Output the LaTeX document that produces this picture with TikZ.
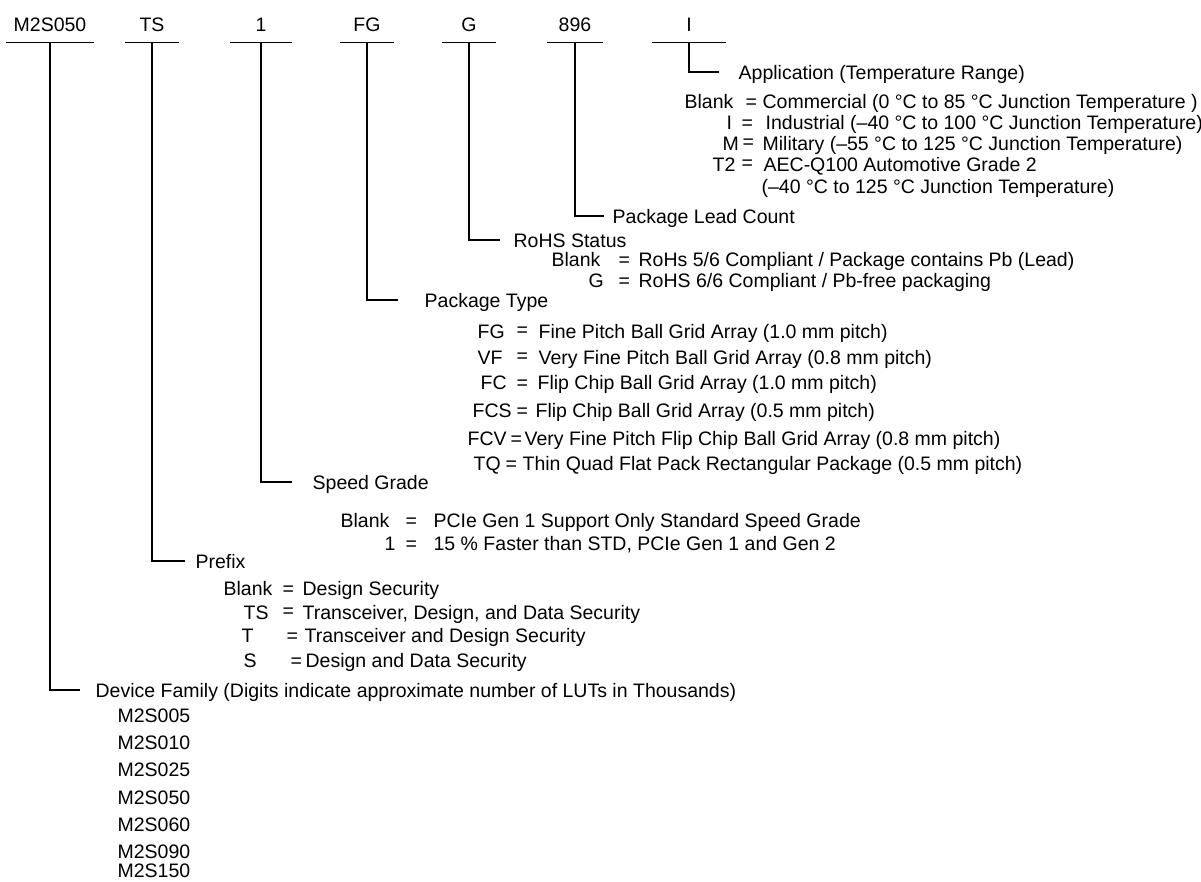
\documentclass[tikz,border=0pt]{standalone}
\usepackage{fontspec}
\setmainfont{Liberation Sans}
\usepackage{tikz}
\usetikzlibrary{arrows}
\newcommand{\upeq}{\raisebox{2pt}{=}}

\begin{document}
\begin{tikzpicture}[x=1pt,y=-1pt,line width=1.3pt,
  every node/.style={font=\fontsize{19.5}{22}\selectfont},
  code node/.style={inner sep=0pt,text height=14pt,text depth=0pt,minimum height=35pt},
  txt node/.style={anchor=west,inner sep=0pt,text height=14pt,text depth=0pt}]
  \useasboundingbox (0,0) rectangle (1201,881);

  % ordering code
  \node[code node,minimum width=86pt] (m2s) at (50,24.5) {M2S050};
  \node[code node,minimum width=53pt] (ts) at (152,24.5) {TS};
  \node[code node,minimum width=60pt] (spd) at (261,24.5) {1};
  \node[code node,minimum width=52pt] (pkg) at (367,24.5) {FG};
  \node[code node,minimum width=52pt] (rohs) at (469,24.5) {G};
  \node[code node,minimum width=55pt] (lead) at (575,24.5) {896};
  \node[code node,minimum width=73pt] (temp) at (689,24.5) {I};
  \foreach \n in {m2s,ts,spd,pkg,rohs,lead,temp}
    \draw (\n.south west) -- (\n.south east);

  % field titles
  \node[txt node] (app) at (738,72) {Application (Temperature Range)};
  \node[txt node] (plc) at (612,216) {Package Lead Count};
  \node[txt node] (rst) at (513,240) {RoHS Status};
  \node[txt node] (ptype) at (424,300) {Package Type};
  \node[txt node] (grade) at (312,482) {Speed Grade};
  \node[txt node] (pre) at (195,561) {Prefix};
  \node[txt node] (fam) at (95,690) {Device Family (Digits indicate approximate number of LUTs in Thousands)};

  \draw[shorten >=19pt] (temp.south) |- (app.west);
  \draw[shorten >=8pt] (lead.south) |- (plc.west);
  \draw[shorten >=13pt] (rohs.south) |- (rst.west);
  \draw[shorten >=26pt] (pkg.south) |- (ptype.west);
  \draw[shorten >=20pt] (spd.south) |- (grade.west);
  \draw[shorten >=10pt] (ts.south) |- (pre.west);
  \draw[shorten >=15pt] (m2s.south) |- (fam.west);

  % application
  \foreach \y/\xk/\k/\xe/\e/\xv/\v [count=\i] in {
    101/684/Blank/745/=/762/{Commercial (0 °C to 85 °C Junction Temperature )},
    122/726/I/741/=/765/{Industrial (–40 °C to 100 °C Junction Temperature)},
    143/722/M/742/\upeq/762/{Military (–55 °C to 125 °C Junction Temperature)},
    164/712/T2/741/\upeq/763/{AEC-Q100 Automotive Grade 2}}
  {
    \node[txt node] (appk\i) at (\xk,\y) {\k};
    \node[txt node] (appe\i) at (\xe,\y) {\e};
    \node[txt node] (appv\i) at (\xv,\y) {\v};
  }
  \node[txt node] (appv5) at (761,186) {(–40 °C to 125 °C Junction Temperature)};

  % rohs
  \foreach \y/\xk/\k/\v [count=\i] in {
    259/551/Blank/{RoHs 5/6 Compliant / Package contains Pb (Lead)},
    280/588/G/{RoHS 6/6 Compliant / Pb-free packaging}}
  {
    \node[txt node] (rstk\i) at (\xk,\y) {\k};
    \node[txt node] (rste\i) at (618,\y) {=};
    \node[txt node] (rstv\i) at (638,\y) {\v};
  }

  % package type
  \foreach \y/\xk/\k/\xe/\e/\xv/\v [count=\i] in {
    331/477/FG/516/\upeq/538/{Fine Pitch Ball Grid Array (1.0 mm pitch)},
    357/477/VF/516/\upeq/538/{Very Fine Pitch Ball Grid Array (0.8 mm pitch)},
    382/480/FC/516/=/537/{Flip Chip Ball Grid Array (1.0 mm pitch)},
    410/472/FCS/516/=/535/{Flip Chip Ball Grid Array (0.5 mm pitch)},
    438/467/FCV/510/=/524/{Very Fine Pitch Flip Chip Ball Grid Array (0.8 mm pitch)},
    463/473/TQ/505/=/522/{Thin Quad Flat Pack Rectangular Package (0.5 mm pitch)}}
  {
    \node[txt node] (ptk\i) at (\xk,\y) {\k};
    \node[txt node] (pte\i) at (\xe,\y) {\e};
    \node[txt node] (ptv\i) at (\xv,\y) {\v};
  }

  % speed grade
  \foreach \y/\xk/\k/\v [count=\i] in {
    520/340/Blank/{PCIe Gen 1 Support Only Standard Speed Grade},
    543/384/1/{15 \% Faster than STD, PCIe Gen 1 and Gen 2}}
  {
    \node[txt node] (grk\i) at (\xk,\y) {\k};
    \node[txt node] (gre\i) at (405,\y) {=};
    \node[txt node] (grv\i) at (433,\y) {\v};
  }

  % prefix
  \foreach \y/\xk/\k/\xe/\e/\xv/\v [count=\i] in {
    588/223/Blank/282/=/302/{Design Security},
    612/243/TS/282/\upeq/302/{Transceiver, Design, and Data Security},
    635/241/T/286/=/304/{Transceiver and Design Security},
    660/243/S/290/=/305/{Design and Data Security}}
  {
    \node[txt node] (prk\i) at (\xk,\y) {\k};
    \node[txt node] (pre\i) at (\xe,\y) {\e};
    \node[txt node] (prv\i) at (\xv,\y) {\v};
  }

  % device family
  \foreach \y/\t [count=\i] in {715/M2S005,742/M2S010,769/M2S025,797/M2S050,
    824/M2S060,851/M2S090,870/M2S150}
    \node[txt node] (dev\i) at (117,\y) {\t};
\end{tikzpicture}
\end{document}
